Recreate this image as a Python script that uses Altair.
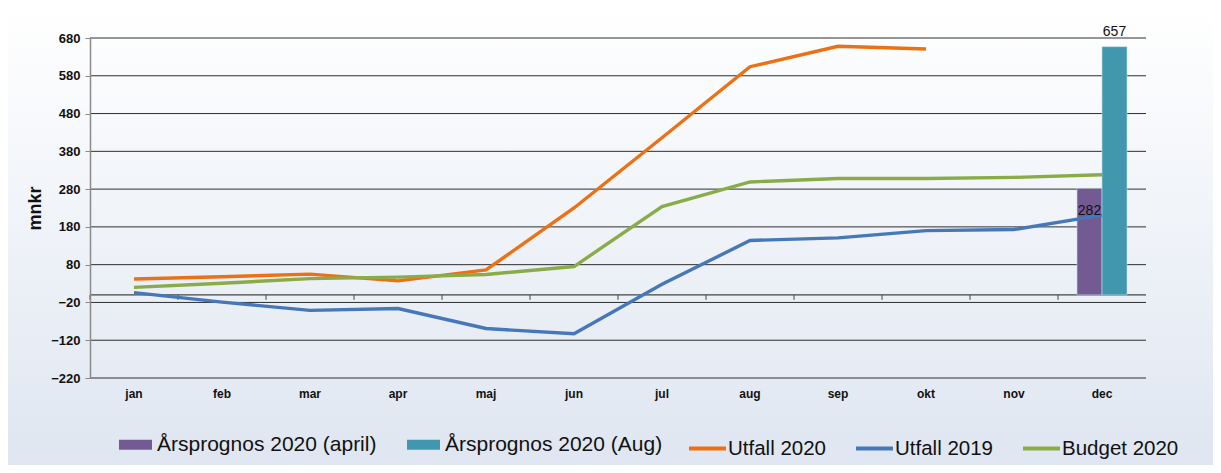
import altair as alt
import pandas as pd

months = ["jan", "feb", "mar", "apr", "maj", "jun", "jul", "aug", "sep", "okt", "nov", "dec"]
utfall_2020 = [42, 48, 55, 37, 66, 230, 416, 604, 658, 651]
utfall_2019 = [6, -19, -41, -36, -89, -103, 28, 144, 151, 170, 173, 211]
budget_2020 = [20, 31, 43, 47, 54, 75, 234, 299, 308, 308, 311, 318]
line_series = ["Utfall 2020", "Utfall 2019", "Budget 2020"]
line_colors = ["#ec7014", "#4678b9", "#8aac48"]
bar_month = "dec"
bar_series = ["Årsprognos 2020 (april)", "Årsprognos 2020 (Aug)"]
bar_values = [282, 657]
bar_colors = ["#745a92", "#4197ae"]
y_ticks = [-220, -120, -20, 80, 180, 280, 380, 480, 580, 680]

rows = []
for s, vals in zip(line_series, [utfall_2020, utfall_2019, budget_2020]):
    for m, v in zip(months, vals):
        rows.append({"month": m, "series": s, "value": v})
lines_df = pd.DataFrame(rows)
bars_df = pd.DataFrame({"month": [bar_month] * 2, "series": bar_series, "value": bar_values})
grid_df = pd.DataFrame({"value": y_ticks})
month_df = pd.DataFrame({"month": months})

W, H = 1056, 340
PAD = {"left": 82, "top": 30, "right": 67, "bottom": 87}
FONT = "Liberation Sans"

yscale = alt.Scale(domain=[-220, 680], nice=False, zero=False)
yaxis = alt.Axis(values=y_ticks, title="mnkr", titleFontSize=18, titleFontWeight="bold",
                 titleColor="#111", titlePadding=6, labelFontSize=13, labelFontWeight="bold",
                 labelColor="#111", labelPadding=5, tickSize=5, tickColor="#888",
                 labelOverlap=False, domainColor="#8a8a8a", domainWidth=1.5, grid=False, zindex=1)
xscale = alt.Scale(domain=months, paddingInner=0, paddingOuter=0)
xoff_scale = alt.Scale(domain=bar_series, paddingInner=0, paddingOuter=0.76)
xaxis = alt.Axis(title=None, labelAngle=0, labelFontSize=12, labelFontWeight="bold",
                 labelColor="#111", ticks=False, tickSize=0, domain=False,
                 labelPadding=10, grid=False, zindex=1)

bg = alt.Chart(pd.DataFrame({"a": [0]})).mark_rect(
    fill=alt.LinearGradient(gradient="linear", x1=0, x2=0, y1=0, y2=1,
                            stops=[alt.GradientStop(color="#ffffff", offset=0),
                                   alt.GradientStop(color="#dfe6f1", offset=1)])
).encode(x=alt.value(-PAD["left"]), x2=alt.value(W + PAD["right"]),
         y=alt.value(-PAD["top"]), y2=alt.value(H + PAD["bottom"]))

grid = alt.Chart(grid_df).mark_rule(color="#2e2e2e", strokeWidth=1).encode(
    y=alt.Y("value:Q", scale=yscale, axis=yaxis),
    x=alt.value(0), x2=alt.value(W),
)

zero_line = alt.Chart(pd.DataFrame({"a": [0]})).mark_rule(color="#444", strokeWidth=1.2).encode(
    y=alt.YDatum(0, scale=yscale, axis=yaxis), x=alt.value(0), x2=alt.value(W),
)
zero_ticks = alt.Chart(month_df).mark_rule(color="#444", strokeWidth=1).encode(
    x=alt.X("month:N", scale=xscale, sort=months, bandPosition=0, axis=xaxis),
    y=alt.YDatum(0, scale=yscale, axis=yaxis), y2=alt.datum(-13),
)

bars = alt.Chart(bars_df).mark_bar(stroke="#c8dbe8", strokeWidth=0.6).encode(
    x=alt.X("month:N", scale=xscale, sort=months, axis=xaxis),
    xOffset=alt.XOffset("series:N", scale=xoff_scale, sort=bar_series),
    y=alt.Y("value:Q", scale=yscale, axis=yaxis),
    fill=alt.Fill("series:N", scale=alt.Scale(domain=bar_series, range=bar_colors),
                  legend=alt.Legend(orient="none", legendX=29, legendY=390, direction="horizontal",
                                    title=None, symbolType="M-1,-0.3H1V0.3H-1Z", symbolSize=1089,
                                    symbolStrokeWidth=0, labelFontSize=21, labelFont=FONT,
                                    labelColor="#111", labelLimit=400, labelOffset=5,
                                    columnPadding=30)),
)

lines = alt.Chart(lines_df).mark_line(strokeWidth=3.4).encode(
    x=alt.X("month:N", scale=xscale, sort=months, axis=xaxis),
    y=alt.Y("value:Q", scale=yscale, axis=yaxis),
    stroke=alt.Stroke("series:N", scale=alt.Scale(domain=line_series, range=line_colors),
                      sort=line_series,
                      legend=alt.Legend(orient="none", legendX=597, legendY=390, direction="horizontal",
                                        title=None, symbolType="stroke", symbolSize=1369,
                                        symbolStrokeWidth=4, labelFontSize=20.5, labelFont=FONT,
                                        labelColor="#111", labelLimit=400, labelOffset=0,
                                        columnPadding=21)),
)

txt_base = alt.Chart(bars_df).encode(
    x=alt.X("month:N", scale=xscale, sort=months, axis=xaxis),
    xOffset=alt.XOffset("series:N", scale=xoff_scale, sort=bar_series),
    y=alt.Y("value:Q", scale=yscale, axis=yaxis),
    text=alt.Text("value:Q"),
)
txt_april = txt_base.transform_filter(alt.datum.series == bar_series[0]).mark_text(
    font=FONT, fontSize=14, color="#111", baseline="alphabetic", dy=27)
txt_aug = txt_base.transform_filter(alt.datum.series == bar_series[1]).mark_text(
    font=FONT, fontSize=14, color="#111", baseline="alphabetic", dy=-11)

chart = alt.layer(bg, grid, zero_line, zero_ticks, bars, lines, txt_april, txt_aug).properties(
    width=W, height=H, autosize=alt.AutoSizeParams(type="none"), padding=PAD
).configure(font=FONT).configure_view(stroke=None)

chart.save("out.html", embed_options={"renderer": "svg", "actions": False})
